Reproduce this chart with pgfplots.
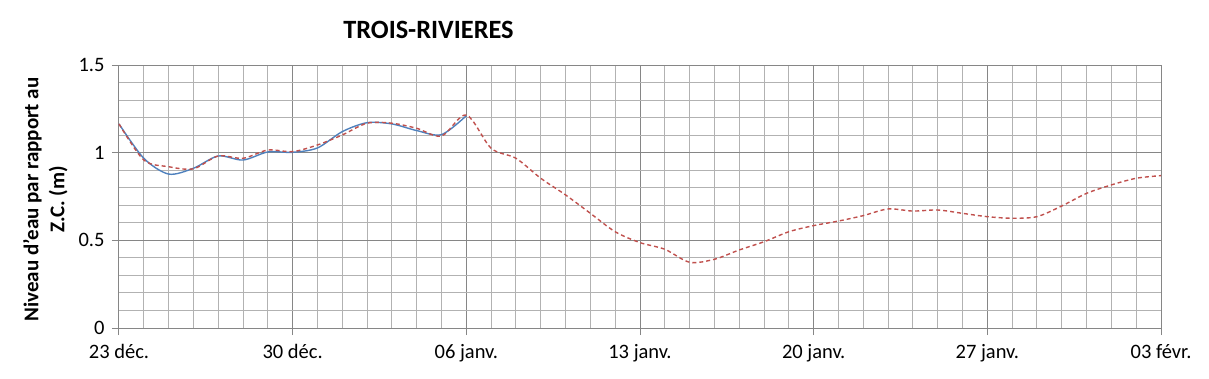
\documentclass[border=0pt]{standalone}
\usepackage{fontspec}
\setmainfont{Carlito}
\usepackage{pgfplots}
\pgfplotsset{compat=1.18}
\definecolor{majg}{RGB}{134,134,134}
\definecolor{ming}{RGB}{178,178,178}
\definecolor{xlblue}{RGB}{79,129,189}
\definecolor{xlred}{RGB}{192,80,77}
\begin{document}
\begin{tikzpicture}
\useasboundingbox (-119pt,-50pt) rectangle (1090pt,328pt);
\begin{axis}[
  scale only axis, width=1042pt, height=263pt,
  xmin=0, xmax=42, ymin=0, ymax=1.5,
  axis x line*=bottom, axis y line*=left,
  axis line style={-, draw=majg, line width=1pt},
  xtick={0,7,14,21,28,35,42},
  xticklabels={23 déc.,30 déc.,06 janv.,13 janv.,20 janv.,27 janv.,03 févr.},
  minor x tick num=6,
  ytick={0,0.5,1,1.5}, yticklabels={0,0.5,1,1.5},
  minor y tick num=4,
  grid=both,
  major grid style={draw=majg, line width=1pt},
  minor grid style={draw=ming, line width=1pt},
  tick align=outside, major tick length=7pt, minor tick length=0pt,
  tick style={draw=majg, line width=1pt},
  ticklabel style={font=\fontsize{20.5}{24}\selectfont},
  xticklabel style={yshift=-6pt},
  yticklabel style={xshift=-4pt},
  ylabel={Niveau d\symbol{39}eau par rapport au\\Z.C. (m)},
  ylabel style={align=center, font=\bfseries\fontsize{21}{26}\selectfont,
    at={([xshift=-48pt,yshift=-3pt]axis description cs:0,0.5)}, anchor=south},
  clip=false,
]
\addplot[xlblue, line width=1.4pt, smooth, tension=0.5] coordinates {
(0,1.164) (1,0.968) (2,0.878) (3,0.911) (4,0.981) (5,0.958) (6,1.004) (7,1.002)
(8,1.027) (9,1.12) (10,1.171) (11,1.164) (12,1.126) (13,1.103) (14,1.211)
};
\addplot[xlred, line width=1.4pt, smooth, tension=0.5, dash pattern=on 4pt off 3pt] coordinates {
(0,1.164) (1,0.958) (2,0.920) (3,0.908) (4,0.981) (5,0.968) (6,1.015) (7,1.006)
(8,1.044) (9,1.101) (10,1.168) (11,1.168) (12,1.139) (13,1.095) (14,1.215)
(15,1.025) (16,0.968) (17,0.854) (18,0.759) (19,0.654) (20,0.549) (21,0.487)
(22,0.449) (23,0.375) (24,0.392) (25,0.445) (26,0.492) (27,0.549) (28,0.584)
(29,0.610) (30,0.641) (31,0.679) (32,0.667) (33,0.673) (34,0.654) (35,0.635)
(36,0.626) (37,0.635) (38,0.696) (39,0.768) (40,0.816) (41,0.854) (42,0.869)
};
\node[font=\bfseries\fontsize{26.4}{30}\selectfont] at (rel axis cs:0.297,1) [yshift=35pt] {TROIS-RIVIERES};
\end{axis}
\end{tikzpicture}
\end{document}
